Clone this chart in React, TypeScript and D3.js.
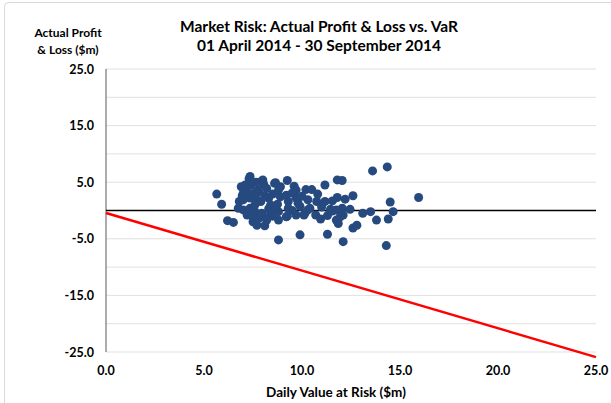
import React from "react";
import * as d3 from "d3";

// Daily VaR ($m) and actual P&L ($m), paired by index
const varValues = [
  5.65, 5.9, 6.2, 6.5,
  6.75, 6.8, 6.9, 7.0, 7.0, 7.0, 7.1, 7.2, 7.2, 7.35, 7.3, 7.35, 7.35, 7.4, 7.5, 7.5, 7.6, 7.7, 7.7, 7.75, 7.8, 7.8, 7.9, 7.9, 7.95, 8.0, 8.05, 7.6, 7.45, 6.95, 7.65,
  8.1, 8.2, 8.2, 8.3, 8.2, 8.4, 8.4, 8.5, 8.6, 8.65, 8.75, 8.8, 8.8, 8.8, 8.8, 8.9, 8.5, 8.3, 8.6, 8.9, 8.1,
  9.2, 9.2, 9.25, 9.3, 9.3, 9.25, 9.5, 9.6, 9.7, 9.7, 9.7, 9.8, 9.9, 10.1, 10.15, 10.2, 10.3, 10.3, 10.5, 10.4, 9.5, 9.9, 10.0,
  10.7, 10.75, 10.8, 10.95, 11.17, 11.17, 11.3, 11.45, 11.55, 11.55, 11.75, 11.75, 11.8, 11.8, 11.85, 11.95, 12.05, 12.05, 12.1, 12.1, 12.2, 12.45, 12.6, 12.6, 12.8, 11.0, 11.3,
  13.1, 13.5, 13.6, 13.8, 14.35, 14.3, 14.4, 14.5, 14.65, 15.95,
];
const plValues = [
  2.9, 1.1, -1.8, -2.1,
  0.4, 1.6, 4.2, 3.0, 0.1, 1.9, 4.5, 3.3, -0.8, 6.0, 5.6, 2.2, 0.4, 4.5, 3.0, -2.0, -0.2, 1.9, -2.6, 3.6, -1.4, 3.3, 5.1, 1.6, -0.5, 5.4, 4.6, 1.0, -1.0, 2.6, 5.0,
  -2.7, -1.4, -1.7, 2.2, 3.9, 1.0, -0.4, 2.9, 4.8, 4.9, 1.1, 3.6, -0.2, -1.7, -5.2, 4.2, -1.0, 0.3, 0.6, 2.4, 2.6,
  2.7, -1.1, 5.3, 1.6, 0.4, -1.0, 3.1, 4.3, 3.6, 2.2, -0.8, 1.3, -4.3, -0.8, -0.5, 3.7, 1.9, 0.1, 3.7, 0.4, 0.0, 0.7, 2.5,
  -0.8, 1.6, 2.9, -1.5, 4.5, 1.6, -4.2, 0.2, 1.7, -0.1, 0.1, -1.7, 2.3, 5.4, -2.3, -1.1, 5.3, 0.4, -0.8, -5.5, 2.0, 0.2, 2.6, -3.1, -2.6, 0.6, -0.9,
  -0.5, -0.2, 7.0, -1.7, 7.7, -6.2, -1.5, 1.5, -0.2, 2.3,
];
// VaR boundary line (negative VaR)
const varLineX = [0, 25];
const varLineY = [-0.45, -25.9];

const xTicks = [0, 5, 10, 15, 20, 25];
const yLabelTicks = [25, 15, 5, -5, -15, -25];
const yGridTicks = [25, 20, 15, 10, 5, -5, -10, -15, -20, -25];

const titleLines = ["Market Risk: Actual Profit & Loss vs. VaR", "01 April 2014 - 30 September 2014"];
const yTitleLines = ["Actual Profit", "& Loss ($m)"];
const xTitle = "Daily Value at Risk ($m)";

const W = 611;
const H = 403;
const font = "Lato, 'Open Sans', sans-serif";

export default function App() {
  const x = d3.scaleLinear().domain([0, 25]).range([106, 596]);
  const y = d3.scaleLinear().domain([-25, 25]).range([352, 69]);
  // excel-style label, plain hyphen for negatives
  const fmt = (v: number) => d3.format(".1f")(v).replace("\u2212", "-");
  const line = d3
    .line<number>()
    .x((d) => x(d))
    .y((_, i) => y(varLineY[i]));

  return (
    <svg
      width={W}
      height={H}
      style={{ position: "absolute", left: 0, top: 0, background: "#fff" }}
      fontFamily={font}
    >
      <rect x={4.5} y={2.5} width={640} height={440} rx={4} fill="#fff" stroke="#d9d9d9" />

      {titleLines.map((t, i) => (
        <text key={t} x={319} y={32 + i * 19} textAnchor="middle" fontSize={15.5} fontWeight="bold" fill="#000">
          {t}
        </text>
      ))}
      {yTitleLines.map((t, i) => (
        <text key={t} x={68} y={37 + i * 17} textAnchor="middle" fontSize={12} fontWeight="bold" fill="#000">
          {t}
        </text>
      ))}

      {yGridTicks.map((t) => (
        <line key={t} x1={x(0)} x2={x(25)} y1={y(t)} y2={y(t)} stroke="#e0e0e0" strokeWidth={1} />
      ))}
      <line x1={x(0)} x2={x(0)} y1={y(25)} y2={y(-25)} stroke="#595959" strokeWidth={1} />
      <line x1={x(0)} x2={x(25)} y1={y(0)} y2={y(0)} stroke="#000" strokeWidth={1.3} />

      {yLabelTicks.map((t) => (
        <text key={t} x={94} y={y(t) + 4.5} textAnchor="end" fontSize={12.5} fontWeight="bold" fill="#000">
          {fmt(t)}
        </text>
      ))}
      {xTicks.map((t) => (
        <text key={t} x={x(t)} y={375} textAnchor="middle" fontSize={12.5} fontWeight="bold" fill="#000">
          {fmt(t)}
        </text>
      ))}
      <text x={336} y={397} textAnchor="middle" fontSize={13.5} fontWeight="bold" fill="#000">
        {xTitle}
      </text>

      <path d={line(varLineX) || ""} fill="none" stroke="#ff0000" strokeWidth={2.5} />

      {varValues.map((v, i) => (
        <circle key={i} cx={x(v)} cy={y(plValues[i])} r={4.5} fill="#264a7f" />
      ))}
    </svg>
  );
}
